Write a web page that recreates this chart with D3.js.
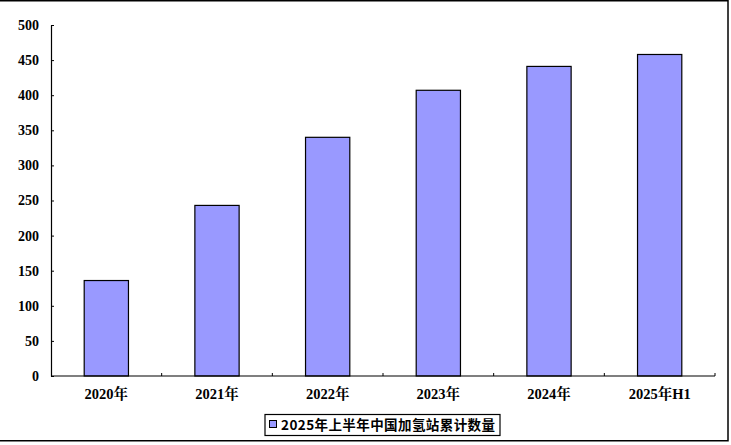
<!DOCTYPE html>
<html>
<head>
<meta charset="utf-8">
<script src="https://cdn.jsdelivr.net/npm/d3@7/dist/d3.min.js"></script>
<style>
  body { margin: 0; background: #fff; }
  svg { display: block; }
</style>
</head>
<body>
<svg id="chart" width="731" height="445"></svg>
<script>
const categories = ["2020年", "2021年", "2022年", "2023年", "2024年", "2025年H1"];
const stations = [136, 243, 340, 407, 441, 458];
const yTicks = [0, 50, 100, 150, 200, 250, 300, 350, 400, 450, 500];
const seriesName = "2025年上半年中国加氢站累计数量";

const svg = d3.select("#chart");
const W = 731, H = 445;
const m = { left: 51, right: 16, top: 25, bottom: 69 };
const x0 = m.left, x1 = W - m.right, yTop = m.top, yBot = H - m.bottom;

const numFont = "'Liberation Serif', 'DejaVu Serif', serif";
const cjkFont = "'Liberation Serif', 'Noto Serif CJK SC', 'Noto Sans CJK SC', serif";

// outer frame
svg.append("rect")
  .attr("x", -2).attr("y", 0.75)
  .attr("width", 730).attr("height", 440)
  .attr("fill", "none").attr("stroke", "#000").attr("stroke-width", 1.5);

const x = d3.scaleBand().domain(categories).range([x0, x1])
  .paddingInner(0.6).paddingOuter(0.3);
const y = d3.scaleLinear().domain([0, 500]).range([yBot, yTop]);

// bars
svg.append("g").selectAll("rect")
  .data(stations)
  .join("rect")
  .attr("x", (d, i) => x(categories[i]))
  .attr("y", d => y(d))
  .attr("width", x.bandwidth())
  .attr("height", d => y(0) - y(d))
  .attr("fill", "#9999FF")
  .attr("stroke", "#000")
  .attr("stroke-width", 1.2);

// y axis
const yAxis = svg.append("g")
  .attr("transform", `translate(${x0},0)`)
  .call(d3.axisLeft(y).tickValues(yTicks).tickSizeInner(-3).tickSizeOuter(0).tickPadding(12));
yAxis.select(".domain").attr("stroke", "#000").attr("stroke-width", 1.2);
yAxis.selectAll(".tick line").attr("stroke", "#000");
yAxis.selectAll("text")
  .attr("font-family", numFont)
  .attr("font-weight", "bold")
  .attr("font-size", 14)
  .attr("fill", "#000");

// x axis: baseline + boundary ticks
const xAxisG = svg.append("g");
xAxisG.append("line")
  .attr("x1", x0).attr("x2", x1)
  .attr("y1", y(0)).attr("y2", y(0))
  .attr("stroke", "#000").attr("stroke-width", 1.2);
const boundaries = d3.range(categories.length + 1).map(i => x0 + i * (x1 - x0) / categories.length);
xAxisG.selectAll("line.b")
  .data(boundaries.slice(1))
  .join("line")
  .attr("class", "b")
  .attr("x1", d => d).attr("x2", d => d)
  .attr("y1", y(0)).attr("y2", y(0) - 3)
  .attr("stroke", "#000");
xAxisG.selectAll("text")
  .data(categories)
  .join("text")
  .attr("x", d => x(d) + x.bandwidth() / 2)
  .attr("y", y(0) + 23)
  .attr("text-anchor", "middle")
  .attr("font-family", cjkFont)
  .attr("font-weight", "bold")
  .attr("font-size", 14.5)
  .attr("fill", "#000")
  .text(d => d);

// legend
const lg = svg.append("g");
lg.append("rect")
  .attr("x", 265).attr("y", 414.5)
  .attr("width", 235).attr("height", 21)
  .attr("fill", "#fff").attr("stroke", "#000").attr("stroke-width", 1.2);
lg.append("rect")
  .attr("x", 269.5).attr("y", 420.5)
  .attr("width", 7).attr("height", 7)
  .attr("fill", "#9999FF").attr("stroke", "#000").attr("stroke-width", 1);
lg.append("text")
  .attr("x", 281).attr("y", 430)
  .attr("font-family", "'Noto Sans CJK SC', sans-serif")
  .attr("font-weight", "bold")
  .attr("font-size", 13.5)
  .attr("textLength", 214)
  .attr("lengthAdjust", "spacing")
  .attr("fill", "#000")
  .text(seriesName);
</script>
</body>
</html>
